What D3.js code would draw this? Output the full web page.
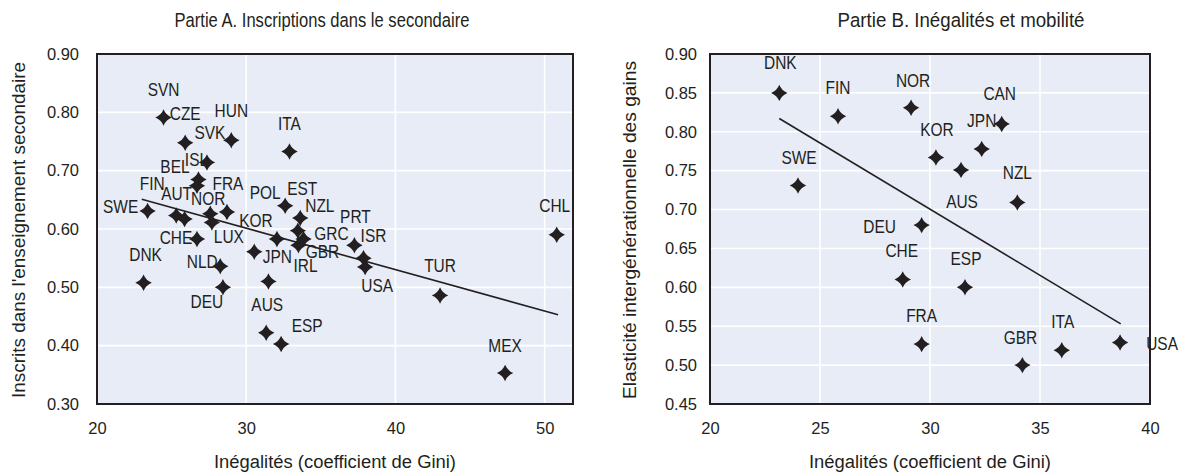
<!DOCTYPE html>
<html>
<head>
<meta charset="utf-8">
<script src="https://cdn.jsdelivr.net/npm/d3@7"></script>
<style>
  html, body { margin: 0; padding: 0; background: #ffffff; }
  svg { display: block; }
  text { font-family: "Liberation Sans", Arial, sans-serif; fill: #231f20; }
</style>
</head>
<body>
<svg id="chart" width="1197" height="475"></svg>
<script>
// ---- Partie A : inscriptions dans le secondaire vs Gini ----
const countriesA = ["SVN","CZE","HUN","ITA","SVK","ISL","BEL","FIN","AUT","FRA","NOR","LUX","CHE","SWE","DNK","NLD","DEU","KOR","JPN","POL","EST","NZL","GRC","GBR","IRL","AUS","ESP","PRT","ISR","USA","TUR","MEX","CHL"];
const giniA      = [24.46,25.91,29.00,32.90,27.37,26.80,26.70,25.31,25.87,28.71,27.59,27.70,26.70,23.39,23.12,28.26,28.44,32.06,30.54,32.61,33.62,33.46,33.84,33.50,31.49,31.34,32.34,37.25,37.86,37.97,42.99,47.35,50.81];
const enrolA     = [0.791,0.748,0.752,0.733,0.714,0.685,0.674,0.623,0.617,0.629,0.626,0.611,0.583,0.631,0.508,0.536,0.500,0.583,0.561,0.640,0.619,0.597,0.583,0.572,0.510,0.422,0.403,0.572,0.550,0.535,0.486,0.353,0.590];
const trendA     = [[23.0, 0.651], [50.9, 0.453]];
const xTicksA    = [20, 30, 40, 50];
const yTicksA    = [0.30, 0.40, 0.50, 0.60, 0.70, 0.80, 0.90];

// ---- Partie B : élasticité intergénérationnelle des gains vs Gini ----
const countriesB = ["DNK","FIN","NOR","SWE","DEU","CHE","FRA","KOR","AUS","JPN","CAN","NZL","ESP","GBR","ITA","USA"];
const giniB      = [23.15,25.82,29.14,24.00,29.62,28.76,29.62,30.27,31.41,32.35,33.26,33.97,31.59,34.20,35.99,38.64];
const elastB     = [0.850,0.820,0.831,0.731,0.680,0.610,0.527,0.767,0.751,0.778,0.810,0.709,0.600,0.500,0.519,0.529];
const trendB     = [[23.15, 0.817], [38.67, 0.553]];
const xTicksB    = [20, 25, 30, 35, 40];
const yTicksB    = [0.45, 0.50, 0.55, 0.60, 0.65, 0.70, 0.75, 0.80, 0.85, 0.90];

// Label placement around each marker (pixel offsets from the marker centre)
const labelOffsetA = {
  SVN:[0,-28], CZE:[0,-29], HUN:[0,-30], ITA:[0,-28], SVK:[3,-30], ISL:[-2,-20], BEL:[-22,-19],
  FIN:[-24,-32], AUT:[-8,-26], FRA:[1,-29], NOR:[-2,-15], LUX:[17,14], CHE:[-21,-1], SWE:[-27,-4],
  DNK:[2,-28], NLD:[-18,-5], DEU:[-16,14], KOR:[-21,-18], JPN:[23,5], POL:[-20,-13], EST:[2,-29],
  NZL:[22,-25], GRC:[28,-5], GBR:[24,6], IRL:[37,-16], AUS:[1,-28], ESP:[26,-18], PRT:[1,-29],
  ISR:[10,-23], USA:[12,19], TUR:[0,-30], MEX:[0,-28], CHL:[-2,-29]
};
const labelOffsetB = {
  DNK:[1,-30], FIN:[0,-29], NOR:[2,-27], SWE:[1,-28], DEU:[-42,1], CHE:[-1,-29], FRA:[0,-29],
  KOR:[1,-28], AUS:[1,32], JPN:[0,-28], CAN:[-2,-30], NZL:[0,-30], ESP:[1,-29], GBR:[-2,-28],
  ITA:[1,-29], USA:[42,1]
};

const svg = d3.select("#chart");

// Diamond marker with slightly concave sides
const starDiamond = {
  draw(ctx, size) {
    const r = Math.sqrt(size) / 2, k = r * 0.28;
    ctx.moveTo(0, -r);
    ctx.quadraticCurveTo(k, -k, r, 0);
    ctx.quadraticCurveTo(k, k, 0, r);
    ctx.quadraticCurveTo(-k, k, -r, 0);
    ctx.quadraticCurveTo(-k, -k, 0, -r);
    ctx.closePath();
  }
};
const marker = d3.symbol().type(starDiamond).size(270);

function panel(cfg) {
  const x = d3.scaleLinear().domain(cfg.xDomain).range([cfg.left, cfg.right]);
  const y = d3.scaleLinear().domain(cfg.yDomain).range([cfg.bottom, cfg.top]);
  const g = svg.append("g");

  // plotting area background
  g.append("rect")
    .attr("x", cfg.left).attr("y", cfg.top)
    .attr("width", cfg.right - cfg.left).attr("height", cfg.bottom - cfg.top)
    .attr("fill", "#e7ecf6");

  // grid lines
  g.append("g").selectAll("line.h").data(cfg.yTicks).join("line")
    .attr("x1", cfg.left).attr("x2", cfg.right)
    .attr("y1", d => y(d)).attr("y2", d => y(d))
    .attr("stroke", "#ffffff").attr("stroke-width", 1.6);
  g.append("g").selectAll("line.v").data(cfg.xTicks).join("line")
    .attr("x1", d => x(d)).attr("x2", d => x(d))
    .attr("y1", cfg.top).attr("y2", cfg.bottom)
    .attr("stroke", "#ffffff").attr("stroke-width", 1.6);

  // axes (labels only, the frame is drawn separately)
  const yAxis = g.append("g")
    .attr("transform", `translate(${cfg.left},0)`)
    .call(d3.axisLeft(y).tickValues(cfg.yTicks).tickFormat(d3.format(".2f")).tickSize(0).tickPadding(cfg.yPad));
  const xAxis = g.append("g")
    .attr("transform", `translate(0,${cfg.bottom})`)
    .call(d3.axisBottom(x).tickValues(cfg.xTicks).tickFormat(d3.format("d")).tickSize(0).tickPadding(18));
  [xAxis, yAxis].forEach(a => {
    a.select(".domain").remove();
    a.selectAll("text").attr("font-size", 16.5).attr("fill", "#231f20")
      .attr("font-family", "'Liberation Sans', Arial, sans-serif");
  });

  // frame
  g.append("rect")
    .attr("x", cfg.left).attr("y", cfg.top)
    .attr("width", cfg.right - cfg.left).attr("height", cfg.bottom - cfg.top)
    .attr("fill", "none").attr("stroke", "#231f20").attr("stroke-width", 2);

  // regression line
  g.append("path")
    .datum(cfg.trend)
    .attr("d", d3.line().x(d => x(d[0])).y(d => y(d[1])))
    .attr("fill", "none").attr("stroke", "#231f20").attr("stroke-width", 1.6);

  const pts = cfg.names.map((n, i) => ({ n, gx: cfg.xs[i], gy: cfg.ys[i] }));

  // markers
  g.append("g").selectAll("path").data(pts).join("path")
    .attr("d", marker)
    .attr("transform", d => `translate(${x(d.gx)},${y(d.gy)})`)
    .attr("fill", "#231f20");

  // country labels (condensed)
  g.append("g").selectAll("text").data(pts).join("text")
    .attr("transform", d => {
      const o = cfg.offsets[d.n] || [0, -28];
      return `translate(${x(d.gx) + o[0]},${y(d.gy) + o[1]}) scale(0.86,1)`;
    })
    .attr("text-anchor", "middle")
    .attr("dy", "0.36em")
    .attr("font-size", 18)
    .text(d => d.n);

  // titles
  svg.append("text")
    .attr("x", cfg.titleX).attr("y", 20).attr("dy", "0.36em")
    .attr("text-anchor", "middle").attr("font-size", 20.5)
    .attr("textLength", cfg.titleLen).attr("lengthAdjust", "spacingAndGlyphs")
    .text(cfg.title);
  svg.append("text")
    .attr("x", (cfg.left + cfg.right) / 2).attr("y", 462).attr("dy", "0.36em")
    .attr("text-anchor", "middle").attr("font-size", 18)
    .attr("textLength", 242).attr("lengthAdjust", "spacingAndGlyphs")
    .text(cfg.xTitle);
  svg.append("text")
    .attr("transform", `translate(${cfg.yTitleX},230) rotate(-90)`)
    .attr("dy", "0.36em")
    .attr("text-anchor", "middle").attr("font-size", 18.5)
    .attr("textLength", cfg.yTitleLen).attr("lengthAdjust", "spacingAndGlyphs")
    .text(cfg.yTitle);
}

panel({
  left: 97, right: 573, top: 54, bottom: 404,
  xDomain: [20, 51.9], yDomain: [0.30, 0.90],
  xTicks: xTicksA, yTicks: yTicksA, yPad: 18,
  names: countriesA, xs: giniA, ys: enrolA, trend: trendA, offsets: labelOffsetA,
  title: "Partie A. Inscriptions dans le secondaire", titleX: 322, titleLen: 295,
  xTitle: "Inégalités (coefficient de Gini)",
  yTitle: "Inscrits dans l'enseignement secondaire", yTitleX: 18, yTitleLen: 336
});

panel({
  left: 710, right: 1150, top: 54, bottom: 404,
  xDomain: [20, 40], yDomain: [0.45, 0.90],
  xTicks: xTicksB, yTicks: yTicksB, yPad: 13,
  names: countriesB, xs: giniB, ys: elastB, trend: trendB, offsets: labelOffsetB,
  title: "Partie B. Inégalités et mobilité", titleX: 961, titleLen: 247,
  xTitle: "Inégalités (coefficient de Gini)",
  yTitle: "Elasticité intergénérationnelle des gains", yTitleX: 629, yTitleLen: 338
});
</script>
</body>
</html>
